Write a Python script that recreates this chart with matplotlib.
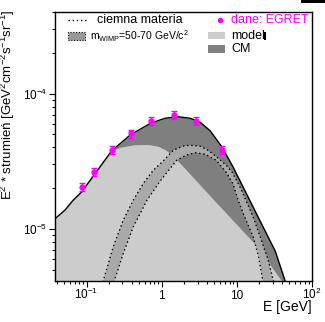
import numpy as np
import matplotlib
matplotlib.use("Agg")
import matplotlib.pyplot as plt
from matplotlib.patches import Rectangle
from matplotlib.lines import Line2D

# EGRET points
egret_E = [0.086, 0.125, 0.215, 0.39, 0.72, 1.45, 2.87, 6.4]
egret_F = [2.05e-5, 2.64e-5, 3.82e-5, 5.07e-5, 6.28e-5, 7.0e-5, 6.28e-5, 3.82e-5]
egret_err = [1.4e-6, 1.8e-6, 2.7e-6, 3.5e-6, 4.4e-6, 4.9e-6, 4.4e-6, 2.7e-6]

# total (model + CM)
total_E = [0.038, 0.0514, 0.0663, 0.0858, 0.1225, 0.2154, 0.3778, 0.698, 1.107, 1.649,
           2.384, 3.242, 4.406, 6.368, 8.927, 15.04, 22.42, 32.42, 45.8]
total_F = [1.191e-5, 1.376e-5, 1.631e-5, 1.878e-5, 2.453e-5, 3.77e-5, 4.923e-5, 6.005e-5,
           6.57e-5, 6.74e-5, 6.57e-5, 6.14e-5, 5.315e-5, 4.015e-5, 2.858e-5, 1.604e-5,
           1.031e-5, 6.86e-6, 3.85e-6]

# background model
bg_E = [0.038, 0.0514, 0.0663, 0.0858, 0.1225, 0.2154, 0.278, 0.4406, 0.6567, 0.8927,
        1.141, 1.372, 1.754, 4.831, 16.5, 26.14, 44.06]
bg_F = [1.191e-5, 1.376e-5, 1.631e-5, 1.878e-5, 2.453e-5, 3.77e-5, 4.015e-5, 4.19e-5,
        4.205e-5, 4.085e-5, 3.815e-5, 3.505e-5, 3.06e-5, 1.659e-5, 7.99e-6, 5.69e-6,
        3.785e-6]

# dark matter, two WIMP masses
dm1_E = [0.159, 0.2263, 0.3076, 0.418, 0.5683, 0.7727, 1.041, 1.428, 1.923, 2.384, 3.242,
         4.142, 5.633, 7.199, 8.658, 11.07, 13.72, 16.5, 20.45, 26.14, 31.92]
dm1_F = [3.785e-6, 7.38e-6, 1.161e-5, 1.631e-5, 2.167e-5, 2.716e-5, 3.166e-5, 3.815e-5,
         4.085e-5, 4.155e-5, 4.085e-5, 3.815e-5, 3.33e-5, 2.957e-5, 2.626e-5, 2.034e-5,
         1.55e-5, 1.222e-5, 8.74e-6, 5.885e-6, 3.785e-6]
dm2_E = [0.2222, 0.3076, 0.418, 0.6368, 0.949, 1.585, 2.109, 2.78, 3.778, 5.297, 7.199,
         8.927, 10.4, 12.9, 16.5, 19.23, 22.84]
dm2_F = [3.785e-6, 6.595e-6, 1.036e-5, 1.631e-5, 2.253e-5, 3.22e-5, 3.505e-5, 3.657e-5,
         3.565e-5, 3.22e-5, 2.626e-5, 2.141e-5, 1.631e-5, 1.201e-5, 8.74e-6, 6.406e-6,
         3.785e-6]

xticks = [0.1, 1, 10, 100]
xticklabels = [r"$10^{-1}$", "1", "10", r"$10^{2}$"]
yticks = [1e-5, 1e-4]
yticklabels = [r"$10^{-5}$", r"$10^{-4}$"]

LIGHT = "#cccccc"
DARK = "#7f7f7f"
BAND = "#a9a9a9"
MAG = "#ff00ff"

plt.rcParams.update({
    "font.family": "Liberation Sans",
    "mathtext.fontset": "custom",
    "mathtext.rm": "Liberation Sans",
    "mathtext.it": "Liberation Sans:italic",
    "mathtext.bf": "Liberation Sans:bold",
})

fig = plt.figure(figsize=(3.25, 3.22), dpi=100)
ax = fig.add_axes([55 / 325, 41 / 322, 257 / 325, 269 / 322])
ax.set_xscale("log")
ax.set_yscale("log")
ax.set_xlim(0.038, 100)
ax.set_ylim(4.13e-6, 4.0e-4)

floor = 1e-6
ax.fill_between(total_E, total_F, floor, color=DARK, lw=0)
ax.fill_between(bg_E, bg_F, floor, color=LIGHT, lw=0)
ax.fill(np.r_[dm1_E, dm2_E[::-1]], np.r_[dm1_F, dm2_F[::-1]], color=BAND, lw=0)
ax.plot(dm1_E, dm1_F, color="black", lw=1.0, ls=(0, (1, 2)))
ax.plot(dm2_E, dm2_F, color="black", lw=1.0, ls=(0, (1, 2)))
ax.plot(total_E, total_F, color="black", lw=1.0)
ax.errorbar(egret_E, egret_F, yerr=egret_err, fmt="o", color=MAG, ms=3.5,
            elinewidth=1, capsize=2.2, capthick=1, zorder=5)

ax.set_xticks(xticks)
ax.set_xticklabels(xticklabels)
ax.set_yticks(yticks)
ax.set_yticklabels(yticklabels)
ax.tick_params(which="major", direction="out", length=4, width=0.8, labelsize=8.5)
ax.tick_params(which="minor", direction="out", length=2.2, width=0.8, labelbottom=False, labelleft=False)
ax.tick_params(axis="y", pad=1.5)
ax.tick_params(axis="x", pad=9)
for t in ax.xaxis.get_major_ticks():
    t.label1.set_va("baseline")
for s in ax.spines.values():
    s.set_linewidth(1.0)

ax.set_xlabel("E [GeV]", fontsize=10, ha="right")
ax.xaxis.set_label_coords(1.0, -0.072)
ax.set_ylabel(r"E$^2$ * strumień [GeV$^2$cm$^{-2}$s$^{-1}$sr$^{-1}$]", fontsize=9.5)
ax.yaxis.set_label_coords(-0.146, 0.654)

# legend, drawn by hand
tr = ax.transAxes
ax.add_line(Line2D([0.0506, 0.1284], [0.9703, 0.9703], transform=tr, color="black",
                   lw=1.0, ls=(0, (1, 2))))
ax.text(0.1623, 0.9703, "ciemna materia", transform=tr, fontsize=9, va="center")
ax.add_patch(Rectangle((0.0494, 0.8959), 0.0673, 0.0286, transform=tr, facecolor="#999999",
                       edgecolor="black", lw=0.8, ls=(0, (1, 1.5))))
ax.text(0.1362, 0.9108, r"m$_{\rm WIMP}$=50-70 GeV/c$^2$", transform=tr, fontsize=7.5,
        va="center")
ax.plot([0.642], [0.9703], "o", color=MAG, ms=3, transform=tr)
ax.text(0.6848, 0.9703, "dane: EGRET", transform=tr, fontsize=9, va="center", color=MAG)
ax.add_patch(Rectangle((0.5942, 0.8985), 0.0673, 0.0283, transform=tr, facecolor=LIGHT, lw=0))
ax.text(0.6848, 0.9126, "model", transform=tr, fontsize=9, va="center")
ax.add_patch(Rectangle((0.8144, 0.8959), 0.0066, 0.0309, transform=tr, facecolor="black", lw=0))
ax.add_patch(Rectangle((0.5942, 0.8487), 0.0673, 0.0286, transform=tr, facecolor=DARK, lw=0))
ax.text(0.6848, 0.8632, "CM", transform=tr, fontsize=9, va="center")

fig.patches.append(Rectangle((0.926, 0.9907), 0.074, 0.0093, transform=fig.transFigure,
                             facecolor="black", lw=0))

fig.savefig("out.png", dpi=100)
